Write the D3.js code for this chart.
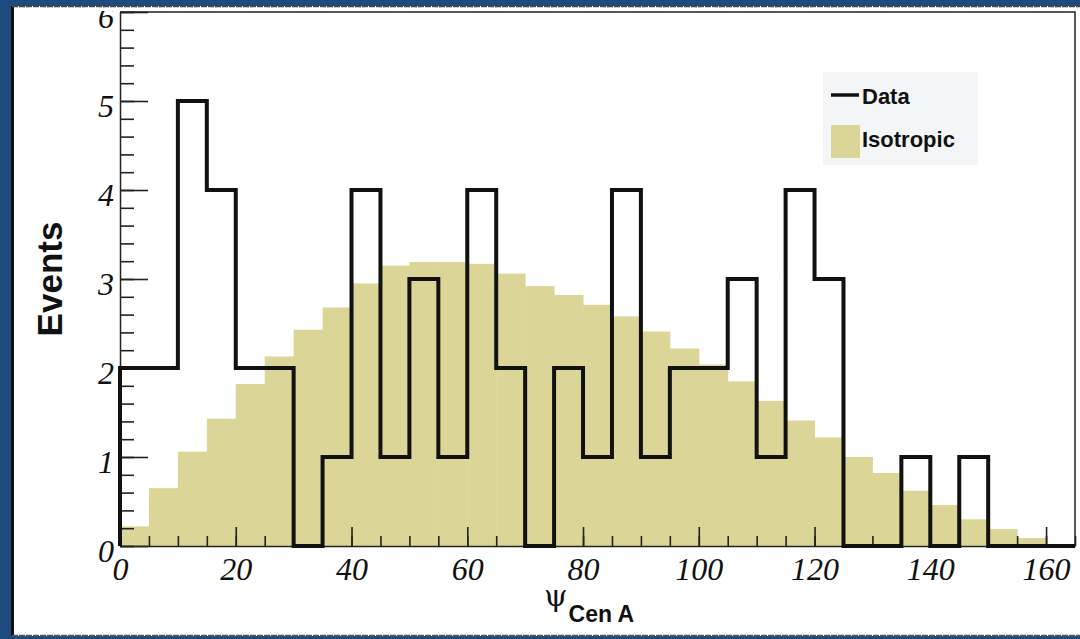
<!DOCTYPE html>
<html>
<head>
<meta charset="utf-8">
<script src="https://cdn.jsdelivr.net/npm/d3@7"></script>
<style>
  html, body { margin: 0; padding: 0; background: #1f4a7e; }
  svg { display: block; }
</style>
</head>
<body>
<svg id="chart" width="1080" height="639"></svg>
<script>
// Bin lower edges (degrees), 5-degree bins
const binEdges = d3.range(0, 165, 5);
// Observed event counts per bin
const dataCounts = [2, 2, 5, 4, 2, 2, 0, 1, 4, 1, 3, 1, 4, 2, 0, 2, 1, 4, 1, 2, 2, 3, 1, 4, 3, 0, 0, 1, 0, 1, 0, 0, 0];
// Expected counts for an isotropic sky
const isoCounts = [0.22, 0.65, 1.06, 1.43, 1.82, 2.13, 2.43, 2.68, 2.95, 3.15, 3.19, 3.19, 3.17, 3.06, 2.92, 2.82, 2.71, 2.58, 2.41, 2.22, 2.04, 1.85, 1.63, 1.41, 1.22, 1.00, 0.82, 0.62, 0.46, 0.30, 0.19, 0.09, 0];
const binWidth = 5;
const xTickValues = [0, 20, 40, 60, 80, 100, 120, 140, 160];
const yTickValues = [0, 1, 2, 3, 4, 5, 6];
const legendLabels = ["Data", "Isotropic"];

const svg = d3.select("#chart");

// canvas panel
svg.append("rect").attr("x", 12).attr("y", 6).attr("width", 1080).attr("height", 630).attr("fill", "#ffffff");
svg.append("line").attr("x1", 12.5).attr("x2", 12.5).attr("y1", 6).attr("y2", 636)
  .attr("stroke", "#111").attr("stroke-width", 3);
svg.append("line").attr("x1", 12).attr("x2", 1080).attr("y1", 6.5).attr("y2", 6.5)
  .attr("stroke", "#444").attr("stroke-width", 1.5).attr("stroke-dasharray", "6 1");
svg.append("line").attr("x1", 12).attr("x2", 1080).attr("y1", 635.5).attr("y2", 635.5)
  .attr("stroke", "#555").attr("stroke-width", 1.5).attr("stroke-dasharray", "6 1");

const x = d3.scaleLinear().domain([0, 165]).range([120, 1075]);
const y = d3.scaleLinear().domain([0, 6]).range([546, 12]);

// isotropic expectation, filled bars
svg.append("g").selectAll("rect")
  .data(binEdges.map((e, i) => ({ e, v: isoCounts[i] })))
  .join("rect")
  .attr("x", d => x(d.e))
  .attr("width", d => x(d.e + binWidth) - x(d.e) + 0.5)
  .attr("y", d => y(d.v))
  .attr("height", d => y(0) - y(d.v))
  .attr("fill", "#dbd698");

// frame top / right
svg.append("path")
  .attr("d", `M${x(0)},${y(6)}H${x(165)}V${y(0)}`)
  .attr("fill", "none").attr("stroke", "#222").attr("stroke-width", 1.5);

const tickFont = "'Liberation Serif', 'Times New Roman', serif";

// y axis: minor ticks
svg.append("g").attr("transform", `translate(${x(0)},0)`)
  .call(d3.axisLeft(y).tickValues(d3.range(0, 6.001, 0.2)).tickSize(-14).tickSizeOuter(0).tickFormat(""))
  .call(g => g.selectAll("line").attr("stroke", "#222").attr("stroke-width", 1.6))
  .call(g => g.select(".domain").attr("stroke", "#222").attr("stroke-width", 1.5));

// y axis: major ticks and labels (labels clipped at the pad top)
svg.append("defs").append("clipPath").attr("id", "ylab-clip")
  .append("rect").attr("x", -200).attr("y", 11).attr("width", 400).attr("height", 620);
svg.append("g").attr("transform", `translate(${x(0)},0)`)
  .call(d3.axisLeft(y).tickValues(yTickValues).tickSize(-28).tickSizeOuter(0).tickPadding(6).tickFormat(d3.format("d")))
  .call(g => g.select(".domain").remove())
  .call(g => g.selectAll("line").attr("stroke", "#222").attr("stroke-width", 1.6))
  .call(g => g.selectAll("text").attr("dy", 15)
    .attr("font-family", tickFont).attr("font-style", "italic").attr("font-size", 32).attr("fill", "#111"))
  .attr("clip-path", "url(#ylab-clip)");

// x axis: minor ticks
svg.append("g").attr("transform", `translate(0,${y(0)})`)
  .call(d3.axisBottom(x).tickValues(d3.range(0, 165.001, 5)).tickSize(-10).tickSizeOuter(0).tickFormat(""))
  .call(g => g.selectAll("line").attr("stroke", "#222").attr("stroke-width", 1.6))
  .call(g => g.select(".domain").attr("stroke", "#222").attr("stroke-width", 1.5));

// x axis: major ticks and labels
svg.append("g").attr("transform", `translate(0,${y(0)})`)
  .call(d3.axisBottom(x).tickValues(xTickValues).tickSize(-19).tickSizeOuter(0).tickPadding(11).tickFormat(d3.format("d")))
  .call(g => g.select(".domain").remove())
  .call(g => g.selectAll("line").attr("stroke", "#222").attr("stroke-width", 1.6))
  .call(g => g.selectAll("text")
    .attr("font-family", tickFont).attr("font-style", "italic").attr("font-size", 32).attr("fill", "#111"));

// observed data as a step outline
const stepPts = [[0, 0]].concat(binEdges.map((e, i) => [e, dataCounts[i]]), [[165, 0]]);
svg.append("path")
  .datum(stepPts)
  .attr("d", d3.line().x(d => x(d[0])).y(d => y(d[1])).curve(d3.curveStepAfter))
  .attr("fill", "none").attr("stroke", "#111").attr("stroke-width", 4)
  .attr("stroke-linejoin", "miter");

// axis titles
svg.append("text")
  .attr("transform", "translate(62,279) rotate(-90)")
  .attr("text-anchor", "middle")
  .attr("font-family", "'Liberation Sans', Arial, sans-serif")
  .attr("font-weight", "bold").attr("font-size", 35).attr("fill", "#111")
  .text("Events");

const xt = svg.append("text").attr("x", 544).attr("y", 606).attr("fill", "#111");
xt.append("tspan").attr("font-family", "'DejaVu Serif', serif").attr("font-size", 30).text("ψ");
xt.append("tspan").attr("dx", 1).attr("dy", 16)
  .attr("font-family", "'Liberation Sans', Arial, sans-serif").attr("font-weight", "bold").attr("font-size", 23)
  .text("Cen A");

// legend
const lg = svg.append("g");
lg.append("rect").attr("x", 823).attr("y", 72).attr("width", 155).attr("height", 93).attr("fill", "#f4f5f7");
lg.append("line").attr("x1", 831).attr("x2", 859).attr("y1", 95).attr("y2", 95)
  .attr("stroke", "#111").attr("stroke-width", 3.5);
lg.append("rect").attr("x", 831).attr("y", 125).attr("width", 29).attr("height", 33).attr("fill", "#dbd698");
lg.selectAll("text").data(legendLabels).join("text")
  .attr("x", 862).attr("y", (d, i) => i === 0 ? 104 : 147)
  .attr("font-family", "'Liberation Sans', Arial, sans-serif")
  .attr("font-weight", "bold").attr("font-size", 22).attr("fill", "#111")
  .text(d => d);
</script>
</body>
</html>
